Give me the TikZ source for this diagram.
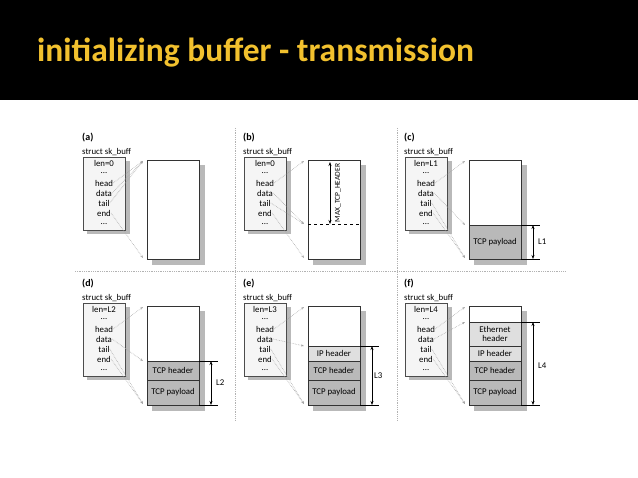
\documentclass[tikz,border=0pt]{standalone}
\usepackage{fontspec}
\setmainfont{Carlito}
\usetikzlibrary{arrows.meta,calc}
\definecolor{ttl}{HTML}{F2C12E}
\tikzset{
  sep/.style={gray!60,densely dotted,line width=0.8pt},
  ptr/.style={gray!70,densely dotted,line width=0.6pt,-{Stealth[length=3pt]}},
  sbox/.style={draw=black!70,fill=gray!8,line width=0.5pt},
  buf/.style={draw=black!80,fill=white,line width=0.6pt},
  shad/.style={fill=gray!55,draw=none},
  txt/.style={font=\fontsize{8.8}{9.5}\selectfont,inner sep=0pt},
  lay/.style={draw=black!80,line width=0.5pt},
  dim/.style={{Stealth[length=4pt]}-{Stealth[length=4pt]},line width=0.6pt},
}
% #1 prefix, #2 x0, #3 y0, #4 len text
\newcommand\skstruct[4]{
  \node[txt,anchor=west,font=\bfseries\fontsize{10}{11}\selectfont] (#1lbl) at (#2,#3+138) {(#1)};
  \node[txt,anchor=west] (#1st) at (#2,#3+152) {struct sk\_buff};
  \fill[shad] (#2+5,#3+161) rectangle (#2+48,#3+234);
  \draw[sbox] (#2+1,#3+157) rectangle (#2+43,#3+230);
  \node[txt] (#1len) at (#2+22,#3+163) {len=#4};
  \node[txt] (#1d1) at (#2+22,#3+173) {...};
  \node[txt] (#1head) at (#2+22,#3+183) {head};
  \node[txt] (#1data) at (#2+22,#3+193) {data};
  \node[txt] (#1tail) at (#2+22,#3+203) {tail};
  \node[txt] (#1end) at (#2+22,#3+213) {end};
  \node[txt] (#1d2) at (#2+22,#3+224) {...};
  \fill[shad] (#2+70,#3+165) rectangle (#2+123,#3+265);
  \draw[buf] (#2+65,#3+160) rectangle (#2+117,#3+259);
  \coordinate (#1top) at (#2+61,#3+161);
  \coordinate (#1bot) at (#2+61,#3+258);
}
\begin{document}
\begin{tikzpicture}[x=1pt,y=-1pt]
\useasboundingbox (0,0) rectangle (638,478);
\fill[black] (0,0) rectangle (638,100);
\node[anchor=west,text=ttl,font=\bfseries\fontsize{33.5}{36}\selectfont,inner sep=0pt] (title) at (37,53) {initializing buffer - transmission};
\draw[sep] (235,128) -- (235,420);
\draw[sep] (397,128) -- (397,420);
\draw[sep] (75,271) -- (565,271);
% (a)
\skstruct{a}{82}{0}{0}
\draw[ptr] (ahead.east) -- (atop);
\draw[ptr] (adata.east) -- (atop);
\draw[ptr] (atail.east) -- (atop);
\draw[ptr] (aend.east) -- (abot);
% (b)
\skstruct{b}{243}{0}{0}
\draw[dashed,line width=0.6pt] (308,224) -- (360,224);
\coordinate (bmid) at (304,224);
\draw[ptr] (bhead.east) -- (btop);
\draw[ptr] (bdata.east) -- (bmid);
\draw[ptr] (btail.east) -- (bmid);
\draw[ptr] (bend.east) -- (bbot);
\coordinate (bm1) at (330,162); \coordinate (bm2) at (330,224);
\draw[dim] (bm1) -- (bm2);
\node[txt,rotate=90,inner sep=1pt,font=\fontsize{7.5}{8}\selectfont] (bmax) at (338,193) {MAX\_TCP\_HEADER};
% (c)
\skstruct{c}{404}{0}{L1}
\draw[lay,fill=gray!55] (469,225) rectangle (521,259);
\node[txt] (cpay) at (495,242) {TCP payload};
\coordinate (cmid) at (465,225);
\draw[ptr] (chead.east) -- (ctop);
\draw[ptr] (cdata.east) -- (cmid);
\draw[ptr] (ctail.east) -- (cbot);
\draw[ptr] (cend.east) -- (cbot);
\draw (521,225) -- (540,225); \draw (521,259) -- (540,259);
\coordinate (c1) at (533,225); \coordinate (c2) at (533,259);
\draw[dim] (c1) -- (c2);
\node[txt,anchor=west] (cL) at (538,242) {L1};
% (d)
\skstruct{d}{82}{146}{L2}
\draw[lay,fill=gray!55] (147,361) rectangle (199,380);
\draw[lay,fill=gray!55] (147,380) rectangle (199,405);
\node[txt] (dh) at (173,370.5) {TCP header};
\node[txt] (dp) at (173,392.5) {TCP payload};
\coordinate (dmid) at (143,361);
\draw[ptr] (dhead.east) -- (dtop);
\draw[ptr] (ddata.east) -- (dmid);
\draw[ptr] (dtail.east) -- (dbot);
\draw[ptr] (dend.east) -- (dbot);
\draw (199,361) -- (218,361); \draw (199,405) -- (218,405);
\coordinate (d1) at (211,361); \coordinate (d2) at (211,405);
\draw[dim] (d1) -- (d2);
\node[txt,anchor=west] (dL) at (216,383) {L2};
% (e)
\skstruct{e}{243}{146}{L3}
\draw[lay,fill=gray!25] (308,346) rectangle (360,361);
\draw[lay,fill=gray!55] (308,361) rectangle (360,380);
\draw[lay,fill=gray!55] (308,380) rectangle (360,405);
\node[txt] (eip) at (334,353.5) {IP header};
\node[txt] (eh) at (334,370.5) {TCP header};
\node[txt] (ep) at (334,392.5) {TCP payload};
\coordinate (emid) at (304,346);
\draw[ptr] (ehead.east) -- (etop);
\draw[ptr] (edata.east) -- (emid);
\draw[ptr] (etail.east) -- (ebot);
\draw[ptr] (eend.east) -- (ebot);
\draw (360,346) -- (379,346); \draw (360,405) -- (379,405);
\coordinate (e1) at (372,346); \coordinate (e2) at (372,405);
\draw[dim] (e1) -- (e2);
\node[txt,anchor=west] (eL) at (374,376) {L3};
% (f)
\skstruct{f}{404}{146}{L4}
\draw[lay,fill=gray!25] (469,322) rectangle (521,346);
\draw[lay,fill=gray!25] (469,346) rectangle (521,361);
\draw[lay,fill=gray!55] (469,361) rectangle (521,380);
\draw[lay,fill=gray!55] (469,380) rectangle (521,405);
\node[txt,align=center] (feth) at (495,334) {Ethernet\\header};
\node[txt] (fip) at (495,353.5) {IP header};
\node[txt] (fh) at (495,370.5) {TCP header};
\node[txt] (fp) at (495,392.5) {TCP payload};
\coordinate (fmid) at (465,322);
\draw[ptr] (fhead.east) -- (ftop);
\draw[ptr] (fdata.east) -- (fmid);
\draw[ptr] (ftail.east) -- (fbot);
\draw[ptr] (fend.east) -- (fbot);
\draw (521,322) -- (540,322); \draw (521,405) -- (540,405);
\coordinate (f1) at (533,322); \coordinate (f2) at (533,405);
\draw[dim] (f1) -- (f2);
\node[txt,anchor=west] (fL) at (538,366) {L4};
\end{tikzpicture}
\end{document}
